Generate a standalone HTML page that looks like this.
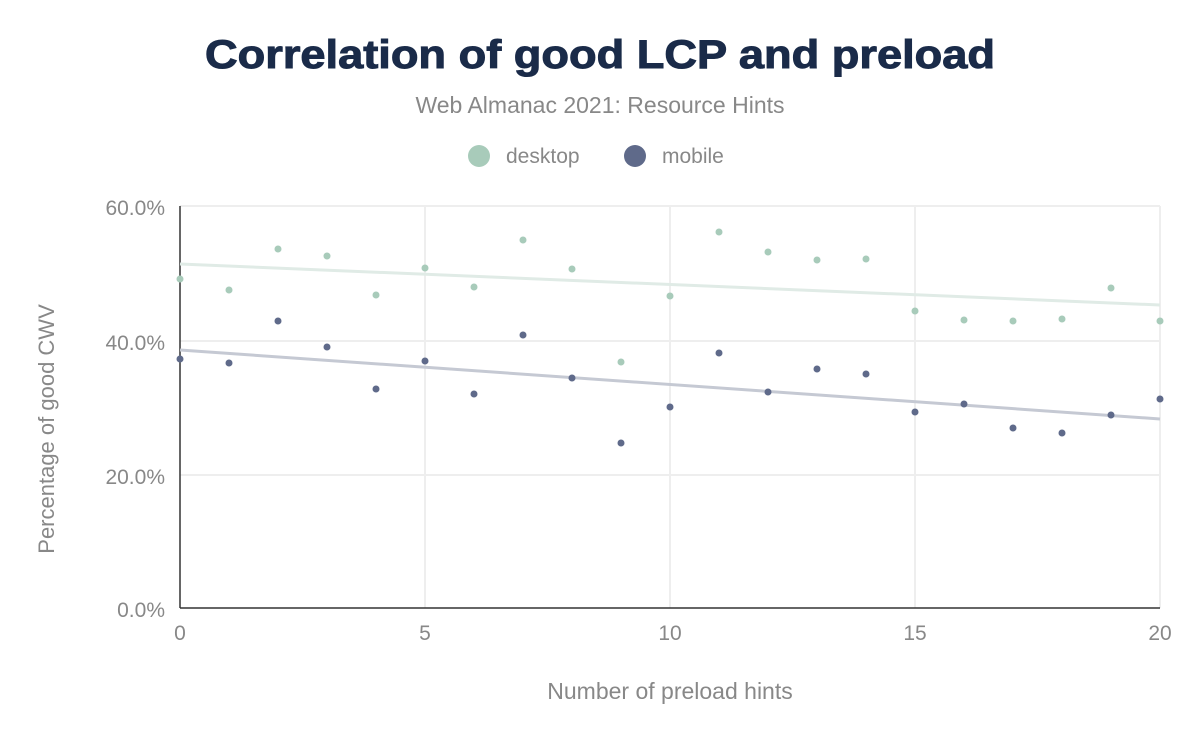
<!DOCTYPE html>
<html><head><meta charset="utf-8"><style>
body{margin:0;background:#fff;width:1200px;height:742px;overflow:hidden}
text{font-family:"Liberation Sans",sans-serif}
</style></head><body>
<svg width="1200" height="742" xmlns="http://www.w3.org/2000/svg">
<text x="205" y="68" textLength="790" lengthAdjust="spacingAndGlyphs" font-size="40" font-weight="bold" fill="#1a2b49" stroke="#1a2b49" stroke-width="1">Correlation of good LCP and preload</text>
<text x="600" y="113" text-anchor="middle" font-size="23" fill="#888">Web Almanac 2021: Resource Hints</text>
<circle cx="479" cy="156" r="11" fill="#a8cbba"/><text x="506" y="163" font-size="21" fill="#888">desktop</text>
<circle cx="635" cy="156" r="11" fill="#5f6a8a"/><text x="662" y="163" font-size="21" fill="#888">mobile</text>
<g stroke="#eeeeee" stroke-width="2">
<line x1="180" y1="206" x2="1160" y2="206"/><line x1="180" y1="341" x2="1160" y2="341"/><line x1="180" y1="475" x2="1160" y2="475"/>
<line x1="425" y1="206" x2="425" y2="608"/><line x1="670" y1="206" x2="670" y2="608"/><line x1="915" y1="206" x2="915" y2="608"/><line x1="1160" y1="206" x2="1160" y2="608"/>
</g>
<line x1="180" y1="206" x2="180" y2="608" stroke="#333" stroke-width="1.5"/>
<line x1="180" y1="608" x2="1160" y2="608" stroke="#333" stroke-width="1.5"/>
<g font-size="21" fill="#888" text-anchor="end">
<text x="165" y="215">60.0%</text><text x="165" y="350">40.0%</text><text x="165" y="484">20.0%</text><text x="165" y="617">0.0%</text>
</g>
<g font-size="21" fill="#888" text-anchor="middle">
<text x="180" y="640">0</text><text x="425" y="640">5</text><text x="670" y="640">10</text><text x="915" y="640">15</text><text x="1160" y="640">20</text>
<text x="670" y="699" font-size="23">Number of preload hints</text>
</g>
<text transform="translate(54,429) rotate(-90)" font-size="22" fill="#888" text-anchor="middle">Percentage of good CWV</text>
<line x1="180" y1="264" x2="1160" y2="305" stroke="#e0ebe6" stroke-width="3"/>
<line x1="180" y1="350" x2="1160" y2="419" stroke="#c5c9d3" stroke-width="3"/>
<g fill="#a8cbba">
<circle cx="180" cy="279" r="3.5"/><circle cx="229" cy="290" r="3.5"/><circle cx="278" cy="249" r="3.5"/><circle cx="327" cy="256" r="3.5"/><circle cx="376" cy="295" r="3.5"/><circle cx="425" cy="268" r="3.5"/><circle cx="474" cy="287" r="3.5"/><circle cx="523" cy="240" r="3.5"/><circle cx="572" cy="269" r="3.5"/><circle cx="621" cy="362" r="3.5"/><circle cx="670" cy="296" r="3.5"/><circle cx="719" cy="232" r="3.5"/><circle cx="768" cy="252" r="3.5"/><circle cx="817" cy="260" r="3.5"/><circle cx="866" cy="259" r="3.5"/><circle cx="915" cy="311" r="3.5"/><circle cx="964" cy="320" r="3.5"/><circle cx="1013" cy="321" r="3.5"/><circle cx="1062" cy="319" r="3.5"/><circle cx="1111" cy="288" r="3.5"/><circle cx="1160" cy="321" r="3.5"/>
</g>
<g fill="#5f6a8a">
<circle cx="180" cy="359" r="3.5"/><circle cx="229" cy="363" r="3.5"/><circle cx="278" cy="321" r="3.5"/><circle cx="327" cy="347" r="3.5"/><circle cx="376" cy="389" r="3.5"/><circle cx="425" cy="361" r="3.5"/><circle cx="474" cy="394" r="3.5"/><circle cx="523" cy="335" r="3.5"/><circle cx="572" cy="378" r="3.5"/><circle cx="621" cy="443" r="3.5"/><circle cx="670" cy="407" r="3.5"/><circle cx="719" cy="353" r="3.5"/><circle cx="768" cy="392" r="3.5"/><circle cx="817" cy="369" r="3.5"/><circle cx="866" cy="374" r="3.5"/><circle cx="915" cy="412" r="3.5"/><circle cx="964" cy="404" r="3.5"/><circle cx="1013" cy="428" r="3.5"/><circle cx="1062" cy="433" r="3.5"/><circle cx="1111" cy="415" r="3.5"/><circle cx="1160" cy="399" r="3.5"/>
</g>
</svg>
</body></html>
